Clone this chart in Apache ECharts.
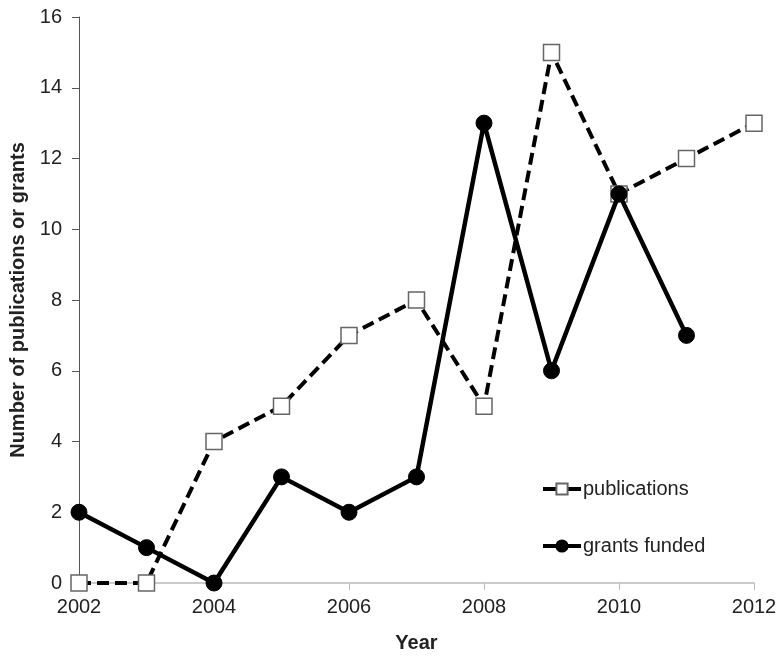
<!DOCTYPE html>
<html><head><meta charset="utf-8">
<script src="https://cdn.jsdelivr.net/npm/echarts@6/dist/echarts.min.js"></script>
<style>html,body{margin:0;padding:0;background:#fff}#c{width:783px;height:658px}</style>
</head><body><div id="c"></div>
<script>
const pubYears = [2002,2003,2004,2005,2006,2007,2008,2009,2010,2011,2012];
const publications = [0,0,4,5,7,8,5,15,11,12,13];
const grantYears = [2002,2003,2004,2005,2006,2007,2008,2009,2010,2011];
const grantsFunded = [2,1,0,3,2,3,13,6,11,7];
const xTicks = [2002,2004,2006,2008,2010,2012];
const yTicks = [0,2,4,6,8,10,12,14,16];

const chart = echarts.init(document.getElementById('c'));
const font = 'Liberation Sans';
chart.setOption({
  animation:false,
  backgroundColor:'#fff',
  grid:{left:79,right:29,top:17,bottom:70},
  legend:{
    orient:'vertical', left:536, top:474, itemGap:37, itemWidth:38, itemHeight:14,
    textStyle:{fontFamily:font,fontSize:20,color:'#222',padding:[0,0,0,-3]},
    data:[
      {name:'publications', lineStyle:{type:'solid',width:4,color:'#000'}},
      {name:'grants funded', lineStyle:{type:'solid',width:4,color:'#000'}}
    ]
  },
  xAxis:{
    type:'value', min:xTicks[0], max:xTicks[xTicks.length-1], interval:2,
    name:'Year', nameLocation:'middle', nameGap:50,
    nameTextStyle:{fontFamily:font,fontSize:20,fontWeight:'bold',color:'#222'},
    axisLine:{lineStyle:{color:'#bbb',width:1.5}},
    axisTick:{show:true,length:7,lineStyle:{color:'#bbb'}},
    axisLabel:{fontFamily:font,fontSize:20,color:'#222',margin:14,formatter:v=>String(v)},
    splitLine:{show:false}
  },
  yAxis:{
    type:'value', min:yTicks[0], max:yTicks[yTicks.length-1], interval:2,
    name:'Number of publications or grants', nameLocation:'middle', nameGap:50, nameRotate:90,
    nameTextStyle:{fontFamily:font,fontSize:20,fontWeight:'bold',color:'#222'},
    axisLine:{show:true,lineStyle:{color:'#555',width:1}},
    axisTick:{show:true,length:7,lineStyle:{color:'#555'}},
    axisLabel:{fontFamily:font,fontSize:20,color:'#222',margin:17},
    splitLine:{show:false}
  },
  series:[
    {
      name:'publications', type:'line',
      data:pubYears.map((y,i)=>[y,publications[i]]),
      symbol:'rect', symbolSize:16, z:3,
      lineStyle:{color:'#000',width:4,type:[12,6]},
      itemStyle:{color:'#fff',borderColor:'#666',borderWidth:1.5}
    },
    {
      name:'grants funded', type:'line',
      data:grantYears.map((y,i)=>[y,grantsFunded[i]]),
      symbol:'circle', symbolSize:16, z:4,
      lineStyle:{color:'#000',width:4.5},
      itemStyle:{color:'#000',borderColor:'#000',borderWidth:1}
    }
  ]
});
</script></body></html>
